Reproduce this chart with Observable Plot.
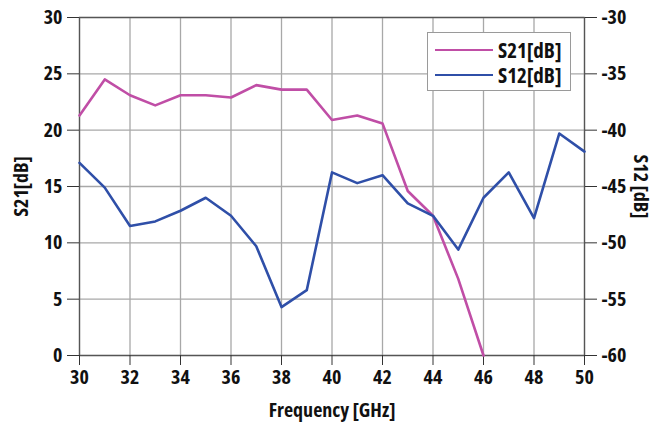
<!DOCTYPE html>
<html><head><meta charset="utf-8">
<script src="https://cdn.jsdelivr.net/npm/d3@7"></script>
<script src="https://cdn.jsdelivr.net/npm/@observablehq/plot@0.6"></script>
<style>
body{margin:0;background:#fff;}
#wrap{position:relative;width:654px;height:426px;}
#wrap svg{font-stretch:75%;}
.legend{position:absolute;left:427px;top:32px;width:144px;height:59px;border:1.5px solid #9a9a9a;background:#fff;box-sizing:border-box;
 font-family:"Open Sans",sans-serif;font-stretch:75%;font-weight:bold;font-size:21px;line-height:24px;color:#111;}
.legend .row{position:absolute;left:7px;height:24px;display:flex;align-items:center;}
.legend .sw{width:58px;height:0;border-top:2.6px solid;margin-right:5px;}
</style>
</head><body>
<div id="wrap"></div>
<script>
const freq = [30,31,32,33,34,35,36,37,38,39,40,41,42,43,44,45,46,47,48,49,50];
const s21Freq = [30,31,32,33,34,35,36,37,38,39,40,41,42,43,44,45,46];
const s21 = [21.3,24.5,23.1,22.2,23.1,23.1,22.9,24.0,23.6,23.6,20.9,21.3,20.6,14.6,12.4,6.8,0];
const s12 = [-42.9,-45.1,-48.5,-48.1,-47.15,-46.0,-47.6,-50.3,-55.7,-54.2,-43.75,-44.7,-44.0,-46.5,-47.6,-50.6,-46.0,-43.75,-47.8,-40.3,-41.9];
const xTicks = [30,32,34,36,38,40,42,44,46,48,50];
const leftTicks = [0,5,10,15,20,25,30];
const rightOffset = 60; // right axis (-60..-30) aligned to left (0..30)
const colS21 = "#c04ea6", colS12 = "#2f4fa8";

const rows21 = s21Freq.map((f,i)=>({f, v:s21[i]}));
const rows12 = freq.map((f,i)=>({f, v:s12[i]}));

const font = '"Open Sans",sans-serif';
const chart = Plot.plot({
  width:654, height:426,
  marginLeft:79, marginRight:70, marginTop:17, marginBottom:71,
  style:{fontFamily:font, fontSize:"20px", fontWeight:"bold", color:"#111", background:"#fff"},
  x:{domain:[30,50]},
  y:{domain:[0,30]},
  marks:[
    Plot.gridX(xTicks,{stroke:"#a8a8a8", strokeOpacity:1, strokeWidth:1.3}),
    Plot.gridY(leftTicks,{stroke:"#a8a8a8", strokeOpacity:1, strokeWidth:1.3}),
    Plot.frame({stroke:"#555", strokeWidth:1.3}),
    Plot.axisX({ticks:xTicks, tickSize:10, tickPadding:4, tickFormat:d=>String(d), stroke:"#333",
      label:"Frequency [GHz]", labelAnchor:"center", labelArrow:"none", labelOffset:61}),
    Plot.axisY({ticks:leftTicks, anchor:"left", tickSize:12, tickPadding:5, tickFormat:d=>String(d), stroke:"#333",
      label:"S21[dB]", labelAnchor:"center", labelArrow:"none", labelOffset:66}),
    Plot.axisY({ticks:leftTicks, anchor:"right", tickSize:12, tickPadding:5, tickFormat:d=>String(d-rightOffset), stroke:"#333",
      label:null}),
    Plot.text(["S12 [dB]"], {text:d=>d, frameAnchor:"right", textAnchor:"middle", dx:56, rotate:90, fontSize:20, fontWeight:"bold", fill:"#111"}),
    Plot.line(rows21,{x:"f", y:"v", stroke:colS21, strokeWidth:2.6}),
    Plot.line(rows12,{x:"f", y:d=>d.v+rightOffset, stroke:colS12, strokeWidth:2.6})
  ]
});
const wrap = document.getElementById("wrap");
wrap.appendChild(chart);
const lg = document.createElement("div");
lg.className="legend";
lg.innerHTML = `<div class="row" style="top:5px"><span class="sw" style="border-color:${colS21}"></span>S21[dB]</div>
<div class="row" style="top:30px"><span class="sw" style="border-color:${colS12}"></span>S12[dB]</div>`;
wrap.appendChild(lg);
</script>
</body></html>
